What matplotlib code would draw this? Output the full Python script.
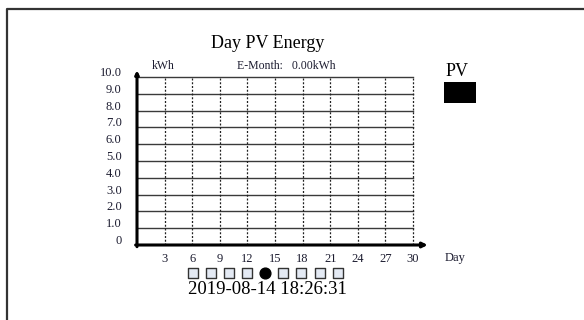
import matplotlib
matplotlib.use("Agg")
import matplotlib.pyplot as plt
from matplotlib.patches import Rectangle
from matplotlib.transforms import ScaledTranslation

# ---- data ----
days = list(range(1, 31))
daily_energy_kwh = [0.0] * 30          # E-Month total is 0.00 kWh
y_ticks = [0, 1, 2, 3, 4, 5, 6, 7, 8, 9, 10]
y_tick_labels = ["0", "1.0", "2.0", "3.0", "4.0", "5.0", "6.0", "7.0", "8.0", "9.0", "10.0"]
x_ticks = [3, 6, 9, 12, 15, 18, 21, 24, 27, 30]
x_tick_labels = ["3", "6", "9", "12", "15", "18", "21", "24", "27", "30"]
title = "Day PV Energy"
month_total = "E-Month:   0.00kWh"
timestamp = "2019-08-14 18:26:31"
page_count = 9
current_page = 4

W, H = 584, 320
DPI = 100
plt.rcParams["font.family"] = ["Liberation Serif", "DejaVu Serif"]

fig = plt.figure(figsize=(W / DPI, H / DPI), dpi=DPI)
fig.patch.set_facecolor("white")

def fx(px):
    return px / W

def fy(py):
    return 1 - py / H

# screen frame
frame = fig.add_axes([0, 0, 1, 1], zorder=-5)
frame.set_xlim(0, W)
frame.set_ylim(H, 0)
frame.axis("off")
frame.plot([7, 7, W + 5], [H + 5, 9, 9], color="#333333", lw=1.6, solid_capstyle="butt")

# main chart axes: x 0..30, y 0..10
x0, x1 = 137, 413
y0, y1 = 245, 77
ax = fig.add_axes([fx(x0), fy(y0), fx(x1) - fx(x0), fy(y1) - fy(y0)])
ax.set_xlim(0, 30)
ax.set_ylim(0, 10)
for s in ax.spines.values():
    s.set_visible(False)
ax.set_facecolor("none")

# horizontal grid
for v in y_ticks[1:]:
    ax.plot([0, 30], [v, v], color="#3a3a3a", lw=1.0, zorder=1, clip_on=False)
# vertical dotted grid
for d in x_ticks:
    ax.plot([d, d], [0, 10], color="#222222", lw=0.9, ls=(0, (1.6, 1.4)), zorder=1, clip_on=False)

# daily bars (zero this month)
ax.bar(days, daily_energy_kwh, width=0.6, color="black", zorder=2)

# axes with arrows
ax.annotate("", xy=(31.6, 0), xytext=(-0.15, 0),
            arrowprops=dict(arrowstyle="-|>", lw=2.2, color="black",
                            mutation_scale=7, shrinkA=0, shrinkB=0),
            annotation_clip=False, zorder=3)
ax.annotate("", xy=(0, 10.4), xytext=(0, -0.1),
            arrowprops=dict(arrowstyle="-|>", lw=2.2, color="black",
                            mutation_scale=5, shrinkA=0, shrinkB=0),
            annotation_clip=False, zorder=3)

ax.set_yticks(y_ticks)
ax.set_yticklabels(y_tick_labels, fontsize=9, color="#1c1c30")
ax.set_xticks(x_ticks)
ax.set_xticklabels(x_tick_labels, fontsize=9, color="#1c1c30")
ax.tick_params(axis="both", length=0)
ax.tick_params(axis="y", pad=11)
ax.tick_params(axis="x", pad=6)
up = ScaledTranslation(0, 4 / 72, fig.dpi_scale_trans)
for lab in ax.get_yticklabels():
    lab.set_transform(lab.get_transform() + up)

# texts
fig.text(fx(268), fy(43), title, ha="center", va="center", fontsize=13, color="black")
fig.text(fx(163), fy(66), "kWh", ha="center", va="center", fontsize=8.5, color="#1c1c30")
fig.text(fx(286), fy(66), month_total, ha="center", va="center", fontsize=8.5, color="#1c1c30")
fig.text(fx(457), fy(71), "PV", ha="center", va="center", fontsize=13, color="black")
frame.add_patch(Rectangle((444, 82), 32, 21, facecolor="black", edgecolor="none"))
fig.text(fx(455), fy(258), "Day", ha="center", va="center", fontsize=9, color="#1c1c30")
fig.text(fx(267), fy(290), timestamp, ha="center", va="center", fontsize=13.5, color="black")

# page indicator
pax = fig.add_axes([fx(183.6), fy(282), fx(346.8) - fx(183.6), fy(264) - fy(282)])
pax.set_xlim(-0.5, page_count - 0.5)
pax.set_ylim(-1, 1)
pax.axis("off")
pages = list(range(page_count))
others = [p for p in pages if p != current_page]
pax.scatter(others, [0] * len(others), marker="s", s=42, facecolor="#e4eaf4",
            edgecolor="#333333", linewidths=1.0)
pax.scatter([current_page], [0], marker="o", s=60, facecolor="black", edgecolor="black")

fig.savefig("out.png", dpi=DPI, facecolor="white")
